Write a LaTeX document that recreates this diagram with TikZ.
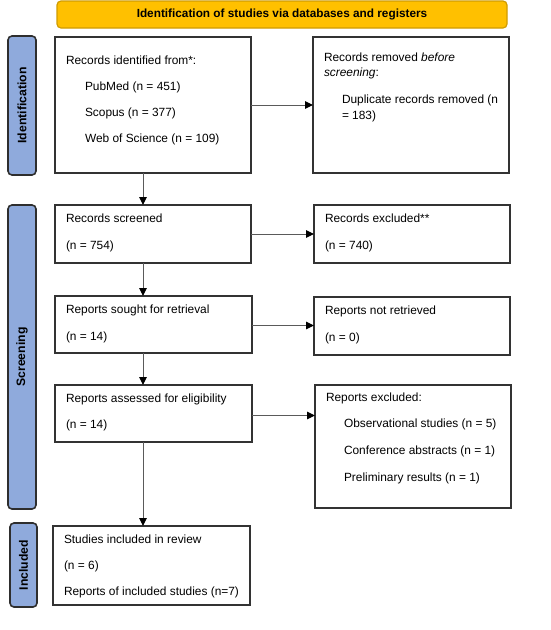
\documentclass[tikz,border=0pt]{standalone}
\usepackage{fontspec}
\setmainfont{Liberation Sans}
\usetikzlibrary{arrows.meta,calc}
\definecolor{bannerfill}{HTML}{FFC000}
\definecolor{bannerdraw}{HTML}{D09C00}
\definecolor{sidefill}{HTML}{8FAADC}
\definecolor{sidedraw}{HTML}{2E2E2E}
\definecolor{boxdraw}{HTML}{333333}
\definecolor{arrowgray}{HTML}{5A5A5A}
\begin{document}
\begin{tikzpicture}[x=1pt,y=-1pt,
  every node/.style={font=\fontsize{11.9}{14}\selectfont, inner sep=0pt, outer sep=0pt},
  frame/.style={draw=boxdraw, line width=1.3pt, fill=white, anchor=north west},
  side/.style={draw=sidedraw, fill=sidefill, line width=1.6pt, rounded corners=4pt, anchor=north west},
  sidelabel/.style={rotate=90, font=\fontsize{12.2}{14}\selectfont\bfseries},
  txt/.style={anchor=west},
  flow/.style={draw=arrowgray, line width=1pt, -{Triangle[length=8pt,width=7.5pt,color=black]}}
]
\useasboundingbox[fill=white] (0,0) rectangle (550,630);

% banner
\node[draw=bannerdraw, fill=bannerfill, line width=1.2pt, rounded corners=4pt,
      minimum width=450pt, minimum height=27pt, anchor=north west,
      font=\fontsize{11.8}{14}\selectfont\bfseries] (banner) at (57,1) {Identification of studies via databases and registers};

% side bars
\node[side, minimum width=28pt, minimum height=139pt] (sid) at (8,36) {};
\node[sidelabel] (sidl) at (sid.center) {Identification};
\node[side, minimum width=28pt, minimum height=304pt] (sscr) at (8,205) {};
\node[sidelabel] (sscrl) at (sscr.center) {Screening};
\node[side, minimum width=27pt, minimum height=84pt] (sinc) at (10,523) {};
\node[sidelabel] (sincl) at (sinc.center) {Included};

% boxes
\node[frame, minimum width=196pt, minimum height=136pt] (b1) at (55,37) {};
\node[frame, minimum width=196pt, minimum height=136pt] (b2) at (313,37) {};
\node[frame, minimum width=196pt, minimum height=58pt] (b3) at (55,205) {};
\node[frame, minimum width=196pt, minimum height=58pt] (b4) at (314,205) {};
\node[frame, minimum width=197pt, minimum height=57pt] (b5) at (55,296) {};
\node[frame, minimum width=196pt, minimum height=58pt] (b6) at (314,297) {};
\node[frame, minimum width=197pt, minimum height=57pt] (b7) at (55,385) {};
\node[frame, minimum width=196pt, minimum height=123pt] (b8) at (315,385) {};
\node[frame, minimum width=197pt, minimum height=79pt] (b9) at (53,526) {};

% texts
\node[txt] (t1a) at (66,60) {Records identified from*:};
\node[txt] (t1b) at (85,87) {PubMed (n = 451)};
\node[txt] (t1c) at (85,113) {Scopus (n = 377)};
\node[txt] (t1d) at (85,139) {Web of Science (n = 109)};

\node[txt] (t2a) at (324,57) {Records removed \textit{before}};
\node[txt] (t2b) at (324,73) {\textit{screening}:};
\node[txt] (t2c) at (342,100) {Duplicate records removed (n};
\node[txt] (t2d) at (342,116) {= 183)};

\node[txt] (t3a) at (66,218) {Records screened};
\node[txt] (t3b) at (66,246) {(n = 754)};
\node[txt] (t4a) at (325,218) {Records excluded**};
\node[txt] (t4b) at (325,246) {(n = 740)};

\node[txt] (t5a) at (66,310) {Reports sought for retrieval};
\node[txt] (t5b) at (66,337) {(n = 14)};
\node[txt] (t6a) at (325,311) {Reports not retrieved};
\node[txt] (t6b) at (325,338) {(n = 0)};

\node[txt] (t7a) at (66,399) {Reports assessed for eligibility};
\node[txt] (t7b) at (66,425) {(n = 14)};
\node[txt] (t8a) at (326,398) {Reports excluded:};
\node[txt] (t8b) at (344,424) {Observational studies (n = 5)};
\node[txt] (t8c) at (344,451) {Conference abstracts (n = 1)};
\node[txt] (t8d) at (344,478) {Preliminary results (n = 1)};

\node[txt] (t9a) at (64,539) {Studies included in review};
\node[txt] (t9b) at (64,566) {(n = 6)};
\node[txt] (t9c) at (64,592) {Reports of included studies (n=7)};

% arrow column
\coordinate (col) at (143,0);

% connectors
\draw[flow] (b1.south -| col) -- (b3.north -| col);
\draw[flow] (b3.south -| col) -- (b5.north -| col);
\draw[flow] (b5.south -| col) -- (b7.north -| col);
\draw[flow] (b7.south -| col) -- (b9.north -| col);

\draw[flow] (b1.east) -- (b1.east -| b2.west);
\draw[flow] (b3.east) -- (b3.east -| b4.west);
\draw[flow] ($(b5.east)+(0,1)$) -- ($(b5.east -| b6.west)+(0,1)$);
\draw[flow] ($(b7.east)+(0,2)$) -- ($(b7.east -| b8.west)+(0,2)$);
\end{tikzpicture}
\end{document}
